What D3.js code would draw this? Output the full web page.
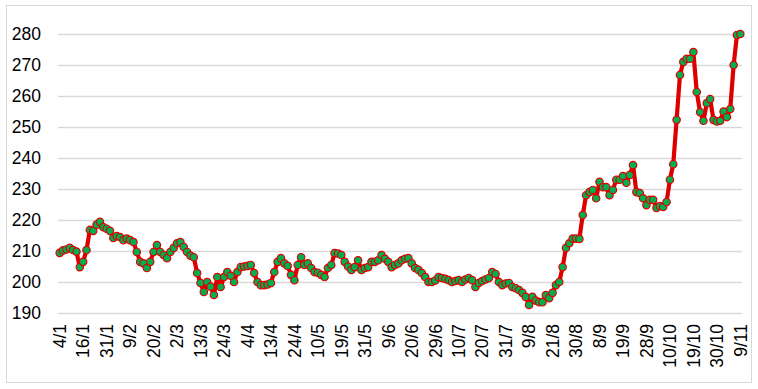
<!DOCTYPE html>
<html>
<head>
<meta charset="utf-8">
<script src="https://cdn.jsdelivr.net/npm/d3@7"></script>
<style>
  body { margin: 0; background: #fff; }
  text { font-family: "Liberation Sans", Arial, sans-serif; fill: #000; }
</style>
</head>
<body>
<div id="chart"></div>
<script>
// daily closing values
var values = [
  209.4, 210.2, 210.5, 211, 210.3, 209.8, 204.8, 206.5, 210.3, 216.8,
  216.5, 218.5, 219.4, 217.7, 217.2, 216.5, 214.2, 214.8, 214.5, 213.5,
  214, 213.5, 212.9, 209.7, 206.5, 206, 204.5, 206.5, 209.7, 211.9,
  209.7, 208.7, 207.7, 209.7, 211, 212.5, 212.9, 211.3, 209.7, 208.5,
  208, 202.9, 199.7, 196.8, 200, 198.5, 195.8, 201.6, 198.4, 201.6,
  203.2, 202, 200, 203.2, 204.8, 205, 205.2, 205.5, 202.9, 200,
  199, 199, 199.2, 199.7, 203.2, 206.5, 207.7, 206, 205.2, 202.3,
  200.6, 205.5, 208, 205.5, 206, 204.5, 203.2, 203, 202.3, 201.6,
  204.5, 205.5, 209.3, 209.2, 208.7, 206.5, 205, 203.9, 204.8, 207,
  203.9, 204.5, 204.8, 206.5, 206.5, 207, 208.7, 207.5, 206.5, 204.8,
  205.5, 206, 207, 207.5, 207.7, 206, 204.5, 203.9, 202.9, 201.6,
  200, 200, 200.5, 201.6, 201.3, 201, 200.6, 200, 200.3, 200.6,
  200, 200.8, 201.3, 200.6, 198.4, 199.7, 200.3, 200.8, 201.3, 203.2,
  202.6, 200, 199, 199.5, 199.7, 198.4, 198, 197.4, 196.5, 195.2,
  192.6, 195.2, 194, 193.5, 193.5, 195.8, 194.8, 196.5, 199, 200,
  204.8, 211, 212.5, 214, 214, 213.9, 221.6, 228, 229, 229.7,
  227, 232.3, 230.6, 230.6, 228, 229.7, 233, 233, 234.2, 232,
  234.5, 237.7, 229, 228.7, 227, 224.8, 226.5, 226.5, 223.9, 224.5,
  224.2, 225.8, 233, 238, 252.3, 266.8, 271, 272, 272, 274.2,
  261.3, 254.8, 252, 257.7, 259, 252.3, 251.8, 252, 255, 253.2,
  255.8, 270, 279.7, 280
];

// one label every 7 points
var tickLabels = [
  "4/1", "16/1", "31/1", "9/2", "20/2", "2/3", "13/3", "24/3", "4/4", "13/4",
  "24/4", "10/5", "19/5", "31/5", "9/6", "20/6", "29/6", "10/7", "20/7", "31/7",
  "9/8", "21/8", "30/8", "8/9", "19/9", "28/9", "10/10", "19/10", "30/10", "9/11"
];
var labelStep = 7;

var yTicks = [190, 200, 210, 220, 230, 240, 250, 260, 270, 280];

var width = 758,
    height = 389;

var svg = d3.select("#chart")
    .append("svg")
    .attr("width", width)
    .attr("height", height);

// chart frame
svg.append("rect")
    .attr("x", 6.5)
    .attr("y", 5.5)
    .attr("width", 745)
    .attr("height", 377)
    .attr("fill", "#fff")
    .attr("stroke", "#d9d9d9");

var x = d3.scalePoint()
    .domain(d3.range(values.length))
    .range([58, 742])
    .padding(0.5);

var y = d3.scaleLinear()
    .domain([190, 280])
    .range([313, 34]);

// gridlines
svg.append("g")
    .selectAll("line")
    .data(yTicks)
    .enter()
    .append("line")
    .attr("x1", 58)
    .attr("x2", 742)
    .attr("y1", function (d) { return Math.round(y(d)) + 0.5; })
    .attr("y2", function (d) { return Math.round(y(d)) + 0.5; })
    .attr("stroke", "#d9d9d9")
    .attr("stroke-width", 1.3);

// y axis labels
var yAxis = d3.axisLeft(y)
    .tickValues(yTicks)
    .tickSize(0)
    .tickPadding(0);

svg.append("g")
    .attr("transform", "translate(41,0)")
    .call(yAxis)
    .call(function (g) { g.select(".domain").remove(); })
    .selectAll("text")
    .attr("font-size", 17.5)
    .attr("font-family", "Liberation Sans, Arial, sans-serif")
    .attr("fill", "#000");

// x axis labels, rotated
svg.append("g")
    .selectAll("text")
    .data(tickLabels)
    .enter()
    .append("text")
    .attr("transform", function (d, i) {
        return "translate(" + x(i * labelStep) + ",324) rotate(-90)";
    })
    .attr("dy", "0.36em")
    .attr("text-anchor", "end")
    .attr("font-size", 17.5)
    .text(function (d) { return d; });

// line
var line = d3.line()
    .x(function (d, i) { return x(i); })
    .y(function (d) { return y(d); });

svg.append("path")
    .datum(values)
    .attr("d", line)
    .attr("fill", "none")
    .attr("stroke", "#dd0000")
    .attr("stroke-width", 4.2)
    .attr("stroke-linejoin", "round");

// markers
svg.append("g")
    .selectAll("circle")
    .data(values)
    .enter()
    .append("circle")
    .attr("cx", function (d, i) { return x(i); })
    .attr("cy", function (d) { return y(d); })
    .attr("r", 3.7)
    .attr("fill", "#00b050")
    .attr("stroke", "#e00000")
    .attr("stroke-width", 1.2);
</script>
</body>
</html>
